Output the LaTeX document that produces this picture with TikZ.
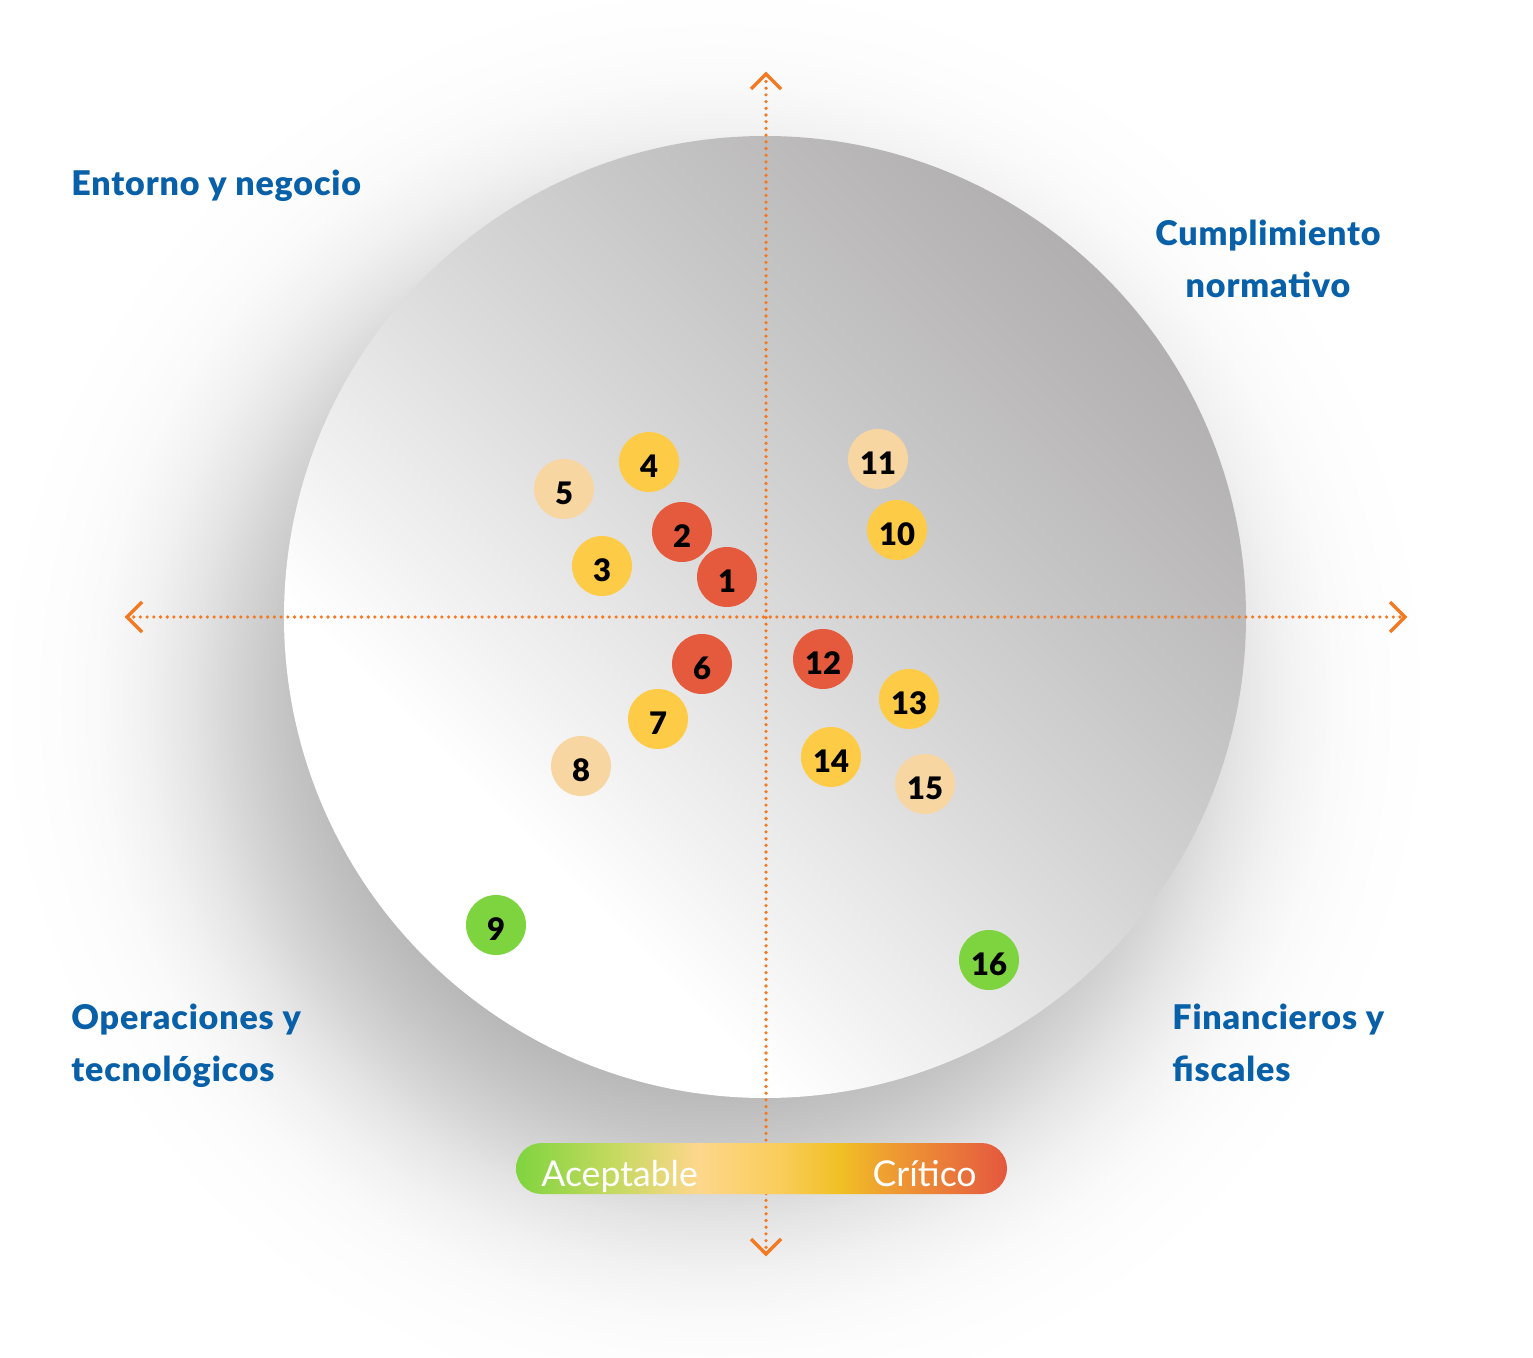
\documentclass[tikz,border=0pt]{standalone}
\usepackage{fontspec}
\setmainfont{Lato}[BoldFont={Lato Black}]
\definecolor{cred}{HTML}{E55A3D}
\definecolor{cyel}{HTML}{FECB47}
\definecolor{cpeach}{HTML}{F8D6A1}
\definecolor{cgreen}{HTML}{7DD43F}
\definecolor{cblue}{HTML}{0860A8}
\definecolor{corange}{HTML}{F47920}
\definecolor{k1}{HTML}{F4F4F4}
\definecolor{k2}{HTML}{DCDBDB}
\definecolor{k3}{HTML}{C6C5C5}
\definecolor{k4}{HTML}{B1AFAF}
\definecolor{g0}{HTML}{7FD43F}
\definecolor{g1}{HTML}{C2D95E}
\definecolor{g2}{HTML}{FDD78C}
\definecolor{g3}{HTML}{F9CC5A}
\definecolor{g4}{HTML}{F0C024}
\definecolor{g5}{HTML}{EFA030}
\definecolor{g6}{HTML}{EA7A3A}
\definecolor{g7}{HTML}{E4573E}
\pgfdeclareradialshading{shadowsh}{\pgfpoint{0bp}{0bp}}{color(0bp)=(black!33); color(10.4bp)=(black!32); color(13.5bp)=(black!27.5); color(15.1bp)=(black!22.5); color(16.7bp)=(black!16.5); color(18.2bp)=(black!10.3); color(19.8bp)=(black!5.3); color(21.4bp)=(black!2.2); color(22.9bp)=(black!0.8); color(25bp)=(white); color(50bp)=(white)}
\pgfdeclarehorizontalshading{discsh}{100bp}{color(0bp)=(white); color(33bp)=(white); color(38bp)=(k1); color(50bp)=(k2); color(62bp)=(k3); color(75bp)=(k4); color(100bp)=(k4)}
\pgfdeclarehorizontalshading{legsh}{100bp}{color(0bp)=(g0); color(25bp)=(g0); color(34.5bp)=(g1); color(43.5bp)=(g2); color(52bp)=(g3); color(58bp)=(g4); color(62.5bp)=(g5); color(69bp)=(g6); color(75bp)=(g7); color(100bp)=(g7)}
\tikzset{
  axisdot/.style={corange, line width=1.8pt, line cap=round, dash pattern=on 0pt off 3.35pt},
  chev/.style={corange, line width=1.7pt, miter limit=10},
  dot/.style={circle, minimum size=30pt, inner sep=0pt, text height=15.8pt, text depth=0pt,
    font=\fontsize{15.5}{15}\selectfont\bfseries, text=black},
  quad/.style={cblue, font=\fontsize{17}{26}\selectfont\bfseries\addfontfeature{LetterSpace=2.5}, inner sep=0pt},
  legtext/.style={white, font=\fontsize{17.8}{20}\selectfont, inner sep=0pt}
}
\begin{document}
\begin{tikzpicture}[x=0.5pt, y=-0.5pt]
\useasboundingbox (0,0) rectangle (1533,1358);
\fill[white] (0,0) rectangle (1533,1358);
% shadow
\shade[shading=shadowsh] (715,700) circle[radius=720];
% disc
\shade[shading=discsh, shading angle=45] (765,617) circle[radius=481];
% axes
\coordinate (vt) at (766,74);
\coordinate (vb) at (766,1254);
\coordinate (hl) at (127,617);
\coordinate (hr) at (1405,617);
\draw[axisdot] (vb) -- (vt);
\draw[axisdot] (hl) -- (hr);
\draw[chev] ([xshift=-7.5pt,yshift=-7.5pt]vt) -- (vt) -- ([xshift=7.5pt,yshift=-7.5pt]vt);
\draw[chev] ([xshift=-7.5pt,yshift=7.5pt]vb) -- (vb) -- ([xshift=7.5pt,yshift=7.5pt]vb);
\draw[chev] ([xshift=7.5pt,yshift=7.5pt]hl) -- (hl) -- ([xshift=7.5pt,yshift=-7.5pt]hl);
\draw[chev] ([xshift=-7.5pt,yshift=7.5pt]hr) -- (hr) -- ([xshift=-7.5pt,yshift=-7.5pt]hr);
% dots
\node[dot, fill=cred]    (d1)  at (727,577) {1};
\node[dot, fill=cred]    (d2)  at (682,532) {2};
\node[dot, fill=cyel]    (d3)  at (602,566) {3};
\node[dot, fill=cyel]    (d4)  at (649,462) {4};
\node[dot, fill=cpeach]  (d5)  at (564,489) {5};
\node[dot, fill=cred]    (d6)  at (702,664) {6};
\node[dot, fill=cyel]    (d7)  at (658,719) {7};
\node[dot, fill=cpeach]  (d8)  at (581,766) {8};
\node[dot, fill=cgreen]  (d9)  at (496,925) {9};
\node[dot, fill=cyel]    (d10) at (897,530) {10};
\node[dot, fill=cpeach]  (d11) at (878,459) {11};
\node[dot, fill=cred]    (d12) at (823,659) {12};
\node[dot, fill=cyel]    (d13) at (909,699) {13};
\node[dot, fill=cyel]    (d14) at (831,757) {14};
\node[dot, fill=cpeach]  (d15) at (925,784) {15};
\node[dot, fill=cgreen]  (d16) at (989,960) {16};
% quadrant labels
\node[quad, anchor=base west] (q1) at (71,196) {Entorno y negocio};
\node[quad, anchor=base] (q2a) at (1268,246) {Cumplimiento};
\node[quad, anchor=base] (q2b) at (1268,298) {normativo};
\node[quad, anchor=base west] (q3a) at (71,1029) {Operaciones y};
\node[quad, anchor=base west] (q3b) at (71,1081) {tecnológicos};
\node[quad, anchor=base west] (q4a) at (1172,1029) {Financieros y};
\node[quad, anchor=base west] (q4b) at (1172,1081) {fiscales};
% legend
\node[shade, shading=legsh, rounded corners=12.75pt, minimum width=245.5pt, minimum height=25.5pt, inner sep=0pt] (bar) at (761.5,1168.5) {};
\node[legtext, anchor=base west] (acc) at (541,1186) {Aceptable};
\node[legtext, anchor=base east] (crit) at (977,1186) {Crítico};
\end{tikzpicture}
\end{document}
